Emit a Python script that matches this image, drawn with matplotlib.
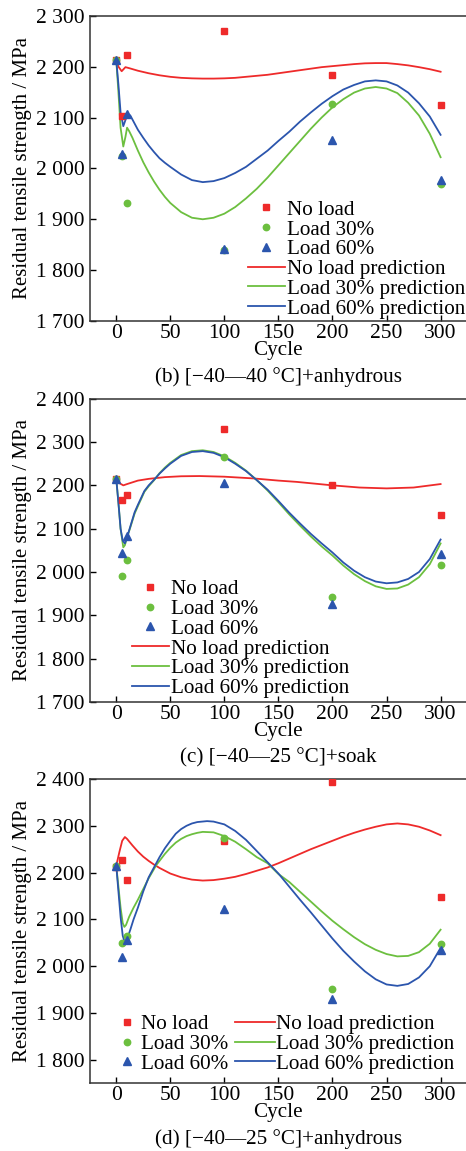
import matplotlib.pyplot as plt
from matplotlib.ticker import FuncFormatter

plt.rcParams['font.family'] = ['Liberation Serif', 'DejaVu Serif']
plt.rcParams['font.size'] = 15

# measured cycles
cycles = [0, 5, 10, 100, 200, 300]

# (b) [-40—40 °C]+anhydrous
b_noload = [2213, 2103, 2222, 2270, 2183, 2125]
b_load30 = [2213, 2024, 1932, 1840, 2127, 1970]
b_load60 = [2213, 2029, 2106, 1841, 2056, 1977]
b_noload_px = [0, 2, 5, 8.5, 12, 20, 30, 40, 50, 60, 70, 80, 90, 100, 110, 120, 130, 140, 150, 160, 170, 180,
               190, 200, 210, 220, 230, 240, 250, 260, 270, 280, 290, 300]
b_noload_py = [2213, 2200, 2191, 2199, 2197, 2192, 2187, 2183, 2180, 2178, 2177, 2176.5, 2176.5, 2177, 2178, 2180,
               2182, 2184, 2187, 2190, 2193, 2196, 2199, 2201, 2203, 2205, 2206.5, 2207, 2207, 2205, 2202.5, 2199,
               2195, 2190]
b_load30_px = [0, 2, 4, 6.5, 8.5, 10, 12, 15, 20, 25, 30, 35, 40, 45, 50, 60, 70, 80, 90, 100, 110, 120, 130, 140,
               150, 160, 170, 180, 190, 200, 210, 220, 230, 240, 250, 260, 270, 280, 290, 300]
b_load30_py = [2213, 2150, 2080, 2043, 2062, 2080, 2073, 2060, 2035, 2012, 1992, 1974, 1958, 1944, 1932, 1914, 1903,
               1900, 1903, 1911, 1924, 1941, 1960, 1982, 2006, 2030, 2054, 2078, 2100, 2120, 2136, 2149, 2157, 2160,
               2157, 2148, 2129, 2104, 2068, 2022]
b_load60_px = [0, 2, 4, 6.5, 8.5, 10.5, 13, 16, 20, 25, 30, 35, 40, 45, 50, 60, 70, 80, 90, 100, 110, 120, 130, 140,
               150, 160, 170, 180, 190, 200, 210, 220, 230, 240, 250, 260, 270, 280, 290, 300]
b_load60_py = [2213, 2165, 2110, 2083, 2095, 2107, 2104, 2092, 2076, 2060, 2045, 2032, 2020, 2011, 2003, 1988, 1977,
               1973, 1975, 1981, 1991, 2003, 2019, 2035, 2054, 2072, 2092, 2110, 2127, 2142, 2155, 2164, 2171, 2173,
               2171, 2163, 2149, 2128, 2102, 2066]

# (c) [-40—25 °C]+soak
c_noload = [2215, 2166, 2178, 2329, 2200, 2132]
c_load30 = [2215, 1990, 2028, 2266, 1942, 2017]
c_load60 = [2215, 2043, 2083, 2206, 1926, 2042]
c_noload_px = [0, 3, 6.5, 10, 20, 30, 45, 60, 77, 100, 127, 150, 167, 200, 225, 250, 275, 300]
c_noload_py = [2215, 2205, 2200, 2203, 2211, 2215, 2219, 2221, 2221.5, 2220, 2216, 2211, 2208, 2200, 2195, 2193,
               2195, 2203]
c_load30_px = [0, 2, 4, 6.5, 8, 10, 13, 17, 20, 26, 30, 35, 40, 45, 50, 60, 70, 80, 90, 100, 110, 120, 130, 140,
               150, 160, 170, 180, 190, 200, 210, 220, 230, 240, 250, 260, 270, 280, 290, 300]
c_load30_py = [2215, 2160, 2100, 2057, 2062, 2080, 2103, 2135, 2152, 2185, 2198, 2212, 2228, 2241, 2252, 2270, 2279,
               2281, 2277, 2267, 2252, 2234, 2212, 2188, 2161, 2133, 2107, 2082, 2059, 2038, 2015, 1995, 1979, 1967,
               1961, 1962, 1971, 1988, 2018, 2066]
c_load60_px = [0, 2, 4, 6, 8, 10, 13, 17, 20, 26, 30, 35, 40, 45, 50, 60, 70, 80, 90, 100, 110, 120, 130, 140, 150,
               160, 170, 180, 190, 200, 210, 220, 230, 240, 250, 260, 270, 280, 290, 300]
c_load60_py = [2215, 2160, 2100, 2072, 2066, 2080, 2105, 2138, 2155, 2187, 2200, 2213, 2227, 2239, 2250, 2268, 2277,
               2279, 2275, 2265, 2250, 2233, 2212, 2190, 2164, 2137, 2112, 2088, 2066, 2045, 2022, 2003, 1988, 1978,
               1974, 1976, 1984, 2000, 2030, 2075]

# (d) [-40—25 °C]+anhydrous
d_noload = [2213, 2227, 2184, 2268, 2393, 2148]
d_load30 = [2215, 2049, 2064, 2273, 1951, 2048]
d_load60 = [2215, 2019, 2056, 2123, 1930, 2034]
d_noload_px = [0, 3, 5.5, 8, 10, 15, 20, 25, 30, 35, 40, 50, 60, 70, 80, 90, 100, 110, 120, 130, 140, 150, 160, 170,
               180, 190, 200, 210, 220, 230, 240, 250, 260, 270, 280, 290, 300]
d_noload_py = [2215, 2245, 2268, 2276, 2272, 2258, 2245, 2234, 2225, 2217, 2210, 2198, 2190, 2185, 2183, 2184, 2187,
               2191, 2197, 2204, 2211, 2220, 2230, 2240, 2250, 2259, 2268, 2277, 2285, 2292, 2298, 2303, 2305, 2303,
               2298, 2290, 2280]
d_load30_px = [0, 2, 4, 6, 7.5, 9, 12, 16, 20, 25, 30, 37, 40, 45, 50, 55, 60, 65, 70, 75, 80, 90, 100, 110, 120,
               130, 140, 150, 160, 170, 180, 190, 200, 210, 220, 230, 240, 250, 260, 270, 280, 290, 300]
d_load30_py = [2215, 2170, 2125, 2092, 2084, 2088, 2106, 2125, 2142, 2165, 2188, 2216, 2225, 2240, 2253, 2264, 2272,
               2278, 2282, 2285, 2287, 2286, 2278, 2266, 2250, 2233, 2220, 2197, 2180, 2159, 2138, 2117, 2097, 2079,
               2062, 2047, 2035, 2026, 2021, 2022, 2030, 2048, 2078]
d_load60_px = [0, 2, 4, 6, 8, 10, 13, 16, 20, 25, 30, 37, 40, 45, 50, 55, 60, 65, 70, 75, 84, 90, 100, 110, 120, 130,
               140, 150, 160, 170, 180, 190, 200, 210, 220, 230, 240, 250, 260, 270, 280, 290, 300]
d_load60_py = [2215, 2160, 2105, 2065, 2050, 2058, 2078, 2100, 2125, 2160, 2190, 2220, 2233, 2252, 2268, 2283, 2293,
               2300, 2305, 2308, 2310, 2309, 2303, 2289, 2270, 2246, 2222, 2198, 2170, 2142, 2115, 2087, 2059, 2033,
               2010, 1989, 1972, 1961, 1958, 1962, 1976, 2000, 2039]

red, green, blue = '#ee2a2a', '#6cbf3f', '#2b55ad'

fig = plt.figure(figsize=(4.66, 11.51), dpi=100)


def panel(rect, ylim, yticks, pts, preds, caption):
    ax = fig.add_axes(rect)
    n, l30, l60 = pts
    h1, = ax.plot(cycles, n, ls='none', marker='s', ms=4.2, color=red, zorder=3)
    h2, = ax.plot(cycles, l30, ls='none', marker='o', ms=4.6, color=green, zorder=3)
    h3, = ax.plot(cycles, l60, ls='none', marker='^', ms=5.2, color=blue, zorder=3)
    cols = [red, green, blue]
    lines = []
    for (px, py), c in zip(preds, cols):
        ln, = ax.plot(px, py, color=c, lw=1.3, zorder=2)
        lines.append(ln)
    ax.set_xlim(-24.3, 323.5)
    ax.set_ylim(*ylim)
    ax.set_xticks([0, 50, 100, 150, 200, 250, 300])
    ax.set_yticks(yticks)
    ax.yaxis.set_major_formatter(FuncFormatter(lambda v, p: f'{int(v):,}'.replace(',', ' ')))
    ax.tick_params(direction='in', length=4, width=1, labelsize=15.5, pad=4)
    ax.tick_params(axis='x', pad=2)
    for s in ['left', 'bottom', 'top']:
        ax.spines[s].set_linewidth(1.1)
        ax.spines[s].set_color('#333333')
    ax.spines['right'].set_visible(False)
    ax.set_ylabel('Residual tensile strength / MPa', fontsize=15, labelpad=3)
    ax.set_xlabel('Cycle', fontsize=15.2, labelpad=-1)
    bottom = rect[1]
    fig.text(0.598, bottom - 56 / 1151, caption, ha='center', va='center', fontsize=15.2)
    return ax, [h1, h2, h3], lines


labels_pts = ['No load', 'Load 30%', 'Load 60%']
labels_lines = ['No load prediction', 'Load 30% prediction', 'Load 60% prediction']
leg_kw = dict(frameon=False, borderpad=0, borderaxespad=0, labelspacing=0.0,
              handletextpad=0.1, handlelength=1.75, fontsize=15.2,
              loc='upper left', bbox_transform=fig.transFigure)

ax1, pts1, ln1 = panel([0.1931, 0.7211, 0.8069, 0.2652], (1700, 2300),
                       [1700, 1800, 1900, 2000, 2100, 2200, 2300],
                       (b_noload, b_load30, b_load60),
                       [(b_noload_px, b_noload_py), (b_load30_px, b_load30_py), (b_load60_px, b_load60_py)],
                       '(b) [\u221240\u201440 \u00b0C]+anhydrous')
ax1.legend(pts1 + ln1, labels_pts + labels_lines, bbox_to_anchor=(248 / 466, 1 - 200 / 1151), **leg_kw)

ax2, pts2, ln2 = panel([0.1931, 0.3901, 0.8069, 0.2635], (1700, 2400),
                       [1700, 1800, 1900, 2000, 2100, 2200, 2300, 2400],
                       (c_noload, c_load30, c_load60),
                       [(c_noload_px, c_noload_py), (c_load30_px, c_load30_py), (c_load60_px, c_load60_py)],
                       '(c) [\u221240\u201425 \u00b0C]+soak')
ax2.legend(pts2 + ln2, labels_pts + labels_lines, bbox_to_anchor=(132 / 466, 1 - 579.5 / 1151), **leg_kw)

ax3, pts3, ln3 = panel([0.1931, 0.0593, 0.8069, 0.2639], (1751, 2400),
                       [1800, 1900, 2000, 2100, 2200, 2300, 2400],
                       (d_noload, d_load30, d_load60),
                       [(d_noload_px, d_noload_py), (d_load30_px, d_load30_py), (d_load60_px, d_load60_py)],
                       '(d) [\u221240\u201425 \u00b0C]+anhydrous')
kw3 = dict(leg_kw)
kw3.update(handlelength=0.7, handletextpad=0.3)
leg_a = ax3.legend(pts3, labels_pts, bbox_to_anchor=(120 / 466, 1 - 1014.5 / 1151), **kw3)
ax3.add_artist(leg_a)
kw3b = dict(leg_kw)
kw3b.update(handlelength=1.9, handletextpad=0.05)
ax3.legend(ln3, labels_lines, bbox_to_anchor=(235 / 466, 1 - 1014.5 / 1151), **kw3b)

fig.savefig('out.png', dpi=100)
